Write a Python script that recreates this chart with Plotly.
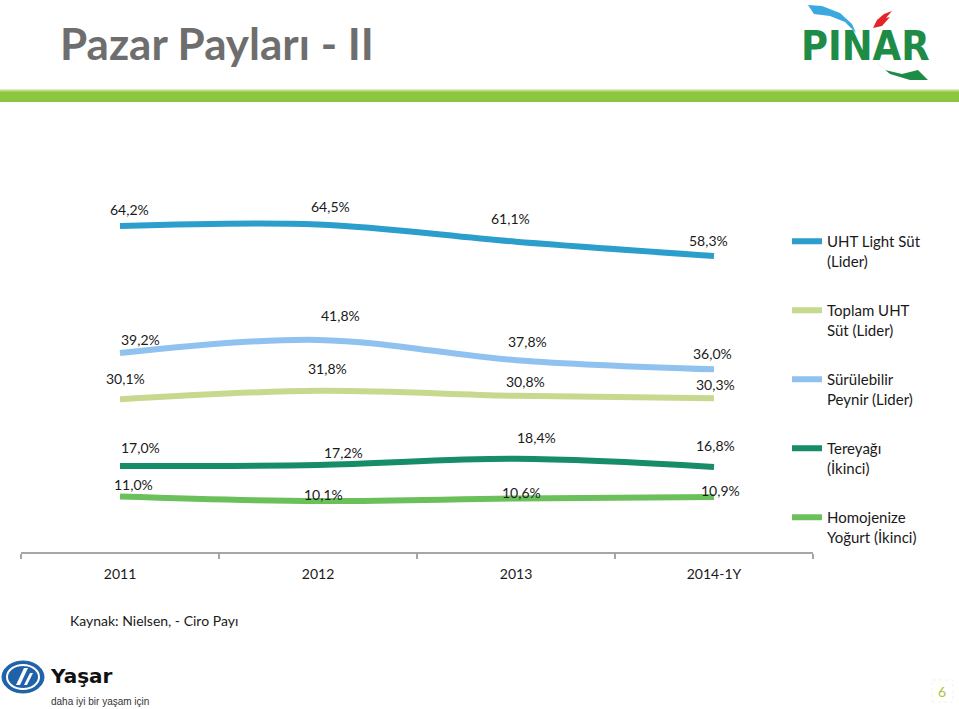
import plotly.graph_objects as go

W, H = 959, 709

categories = ["2011", "2012", "2013", "2014-1Y"]
series_names = ["UHT Light Süt<br>(Lider)", "Toplam UHT<br>Süt (Lider)", "Sürülebilir<br>Peynir (Lider)",
                "Tereyağı<br>(İkinci)", "Homojenize<br>Yoğurt (İkinci)"]
uht_light = [64.2, 64.5, 61.1, 58.3]
toplam_uht = [30.1, 31.8, 30.8, 30.3]
surulebilir = [39.2, 41.8, 37.8, 36.0]
tereyagi = [17.0, 17.2, 18.4, 16.8]
yogurt = [11.0, 10.1, 10.6, 10.9]
series_values = [uht_light, toplam_uht, surulebilir, tereyagi, yogurt]

colors = ["#2B9ECB", "#C6D98F", "#8FC2EE", "#168C68", "#6CC05C"]
# label offsets (px) relative to each point: (dx, dy-down)
label_offsets = [
    [(9, -16), (12, -18), (-6, -23), (-6, -15)],
    [(5, -21), (9, -22), (9, -14), (1, -14)],
    [(20, -14), (22, -24), (11, -19), (-2, -16)],
    [(20, -18), (25, -12), (20, -21), (1, -21)],
    [(13, -12), (5, -7), (5, -6), (6, -6)],
]

FONT = "Lato, Carlito, Calibri, sans-serif"


def px(x):
    return x / W


def py(y):
    return 1 - y / H


fig = go.Figure()
for name, vals, col in zip(series_names, series_values, colors):
    fig.add_trace(go.Scatter(
        x=categories, y=vals, name=name, mode="lines",
        line=dict(color=col, width=6, shape="spline", smoothing=1.0),
        legendgroup=name, hoverinfo="skip",
    ))

annotations = []
for vals, offs in zip(series_values, label_offsets):
    for ci, (v, (dx, dy)) in enumerate(zip(vals, offs)):
        annotations.append(dict(
            x=ci, y=v, xref="x", yref="y", text=f"{v:.1f}%".replace(".", ","),
            showarrow=False, xshift=dx, yshift=-dy,
            font=dict(family=FONT, size=14, color="#1a1a1a"),
        ))

# title
annotations.append(dict(x=px(58), y=py(43), xref="paper", yref="paper", xanchor="left", yanchor="middle",
                        text="<b>Pazar Payları - II</b>", showarrow=False,
                        font=dict(family=FONT, size=44, color="#6E6E6E")))
# source
annotations.append(dict(x=px(68), y=py(620), xref="paper", yref="paper", xanchor="left", yanchor="middle",
                        text="Kaynak: Nielsen, - Ciro Payı", showarrow=False,
                        font=dict(family=FONT, size=14, color="#1a1a1a")))
# PINAR logo text
annotations.append(dict(x=px(865), y=py(46), xref="paper", yref="paper", xanchor="center", yanchor="middle",
                        text="<b>PINAR</b>", showarrow=False,
                        font=dict(family="DejaVu Sans Condensed, DejaVu Sans, sans-serif", size=41,
                                  color="#1E8C47")))
# Yasar logo text
annotations.append(dict(x=px(48), y=py(676), xref="paper", yref="paper", xanchor="left", yanchor="middle",
                        text="<b>Yaşar</b>", showarrow=False,
                        font=dict(family="DejaVu Sans, sans-serif", size=20, color="#111111")))
annotations.append(dict(x=px(49), y=py(701), xref="paper", yref="paper", xanchor="left", yanchor="middle",
                        text="daha iyi bir yaşam için", showarrow=False,
                        font=dict(family="Liberation Sans, sans-serif", size=10, color="#333333")))
# page number
annotations.append(dict(x=px(942), y=py(691), xref="paper", yref="paper", xanchor="center", yanchor="middle",
                        text="6", showarrow=False,
                        font=dict(family=FONT, size=14, color="#A9C63C")))

shapes = []
# green bar under title
shapes.append(dict(type="rect", xref="paper", yref="paper", x0=0, x1=1, y0=py(102), y1=py(90),
                   fillcolor="#8CC63F", line=dict(width=0), layer="below"))
shapes.append(dict(type="rect", xref="paper", yref="paper", x0=0, x1=1, y0=py(91.5), y1=py(89.5),
                   fillcolor="#B9DB8A", line=dict(width=0), layer="below"))


def path(points, close=True):
    s = "M " + " L ".join(f"{px(x):.5f},{py(y):.5f}" for x, y in points)
    return s + (" Z" if close else "")


# Pinar blue swoosh
shapes.append(dict(type="path", xref="paper", yref="paper",
                   path=path([(808, 5), (822, 6), (840, 13), (852, 24), (856, 33), (845, 22), (830, 16), (814, 14)]),
                   fillcolor="#3BA8E0", line=dict(width=0)))
# Pinar red flame
shapes.append(dict(type="path", xref="paper", yref="paper",
                   path=path([(873, 28), (877, 20), (884, 14), (892, 11), (886, 18), (890, 17), (882, 26)]),
                   fillcolor="#E2252B", line=dict(width=0)))
# Pinar green swoosh below
shapes.append(dict(type="path", xref="paper", yref="paper",
                   path=path([(873, 60), (885, 70), (902, 74), (918, 70), (928, 80), (910, 80), (890, 74)]),
                   fillcolor="#1E8C47", line=dict(width=0)))
# Yasar ellipse logo
shapes.append(dict(type="circle", xref="paper", yref="paper", x0=px(2), x1=px(44), y0=py(693), y1=py(661),
                   fillcolor="#2062A8", line=dict(color="#2062A8", width=1)))
shapes.append(dict(type="circle", xref="paper", yref="paper", x0=px(6), x1=px(40), y0=py(690), y1=py(664),
                   fillcolor="#FFFFFF", line=dict(width=0)))
shapes.append(dict(type="circle", xref="paper", yref="paper", x0=px(8), x1=px(38), y0=py(688), y1=py(666),
                   fillcolor="#2062A8", line=dict(width=0)))
shapes.append(dict(type="path", xref="paper", yref="paper",
                   path=path([(16, 685), (24, 668), (28, 668), (20, 685)]),
                   fillcolor="#FFFFFF", line=dict(width=0)))
shapes.append(dict(type="path", xref="paper", yref="paper",
                   path=path([(24, 685), (30, 673), (33, 673), (27, 685)]),
                   fillcolor="#FFFFFF", line=dict(width=0)))
# page number box
shapes.append(dict(type="rect", xref="paper", yref="paper", x0=px(932), x1=px(953), y0=py(702), y1=py(680),
                   fillcolor="rgba(0,0,0,0)", line=dict(color="#F5F3E2", width=1, dash="dot")))

fig.update_layout(
    width=W, height=H,
    margin=dict(l=0, r=0, t=0, b=0),
    paper_bgcolor="white", plot_bgcolor="white",
    showlegend=True,
    legend=dict(x=px(787), y=py(225), xanchor="left", yanchor="top",
                font=dict(family=FONT, size=15, color="#1a1a1a"),
                tracegroupgap=27, valign="top", bgcolor="rgba(0,0,0,0)"),
    xaxis=dict(domain=[px(21), px(813)], type="category", range=[-0.5, 3.5],
               showgrid=False, zeroline=False, showline=True, linecolor="#A6A6A6", linewidth=1.5,
               ticks="outside", tickson="boundaries", ticklen=5, tickcolor="#A6A6A6", tickwidth=1.5,
               ticklabelstandoff=8,
               tickfont=dict(family=FONT, size=14, color="#1a1a1a"), fixedrange=True),
    yaxis=dict(domain=[py(552.4), py(196.5)], range=[0, 70], visible=False, showgrid=False,
               zeroline=False, fixedrange=True),
    annotations=annotations,
    shapes=shapes,
)

fig.write_html("out.html", config={"displayModeBar": False},
               post_script="document.body.style.margin='0';document.body.style.overflow='hidden';")
